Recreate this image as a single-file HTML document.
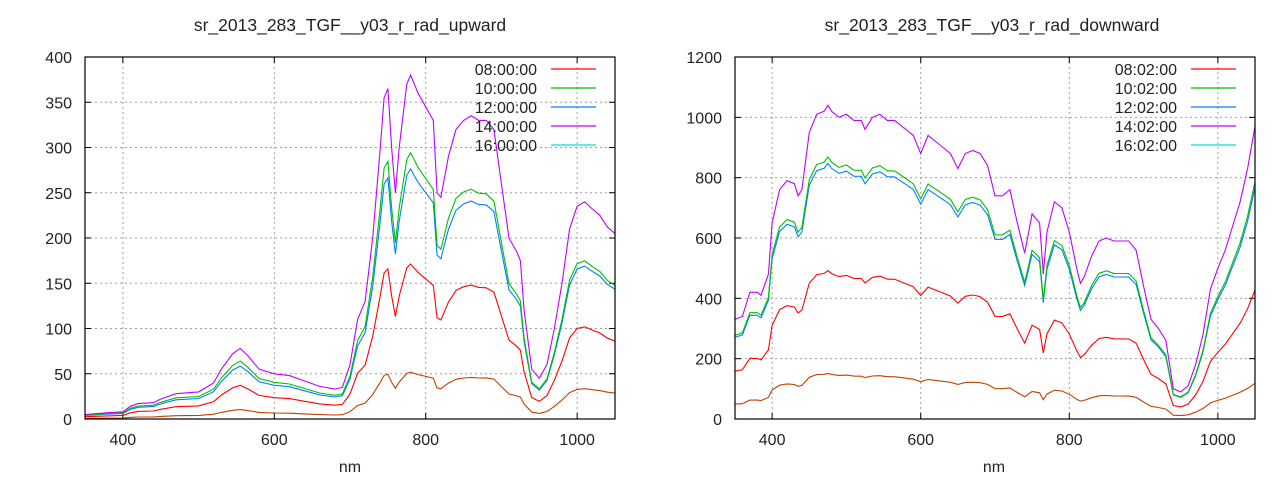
<!DOCTYPE html>
<html><head><meta charset="utf-8"><style>
body{margin:0;background:#fff;}
svg text{font-family:"Liberation Sans",sans-serif;font-size:16px;fill:#222;}
</style></head><body>
<svg id="s" width="1280" height="480" xmlns="http://www.w3.org/2000/svg">
<text x="350" y="31" text-anchor="middle" style="font-size:17.5px">sr_2013_283_TGF__y03_r_rad_upward</text>
<text x="992" y="31" text-anchor="middle" style="font-size:17.5px">sr_2013_283_TGF__y03_r_rad_downward</text>
<text x="350" y="472" text-anchor="middle">nm</text>
<text x="994" y="472" text-anchor="middle">nm</text>
</svg>
<script>
var s=document.getElementById('s'),NS='http://www.w3.org/2000/svg';
function el(t,a,txt){var e=document.createElementNS(NS,t);for(var k in a)e.setAttribute(k,a[k]);if(txt)e.textContent=txt;s.appendChild(e);return e;}
function plot(o){
 var X=function(n){return o.x0+(n-350)/700*(o.x1-o.x0)},Y=function(v){return o.y1-v/o.ymax*(o.y1-o.y0)};
 for(var v=0;v<=o.ymax;v+=o.ystep){var y=Y(v);
  if(v>0&&v<o.ymax)el('line',{x1:o.x0,x2:o.x1,y1:y,y2:y,stroke:'#a0a0a0','stroke-dasharray':'2,3'});
  el('line',{x1:o.x0,x2:o.x0+6,y1:y,y2:y,stroke:'#000'});el('line',{x1:o.x1,x2:o.x1-6,y1:y,y2:y,stroke:'#000'});
  el('text',{x:o.x0-13,y:y+6,'text-anchor':'end'},String(v));}
 [400,600,800,1000].forEach(function(n){var x=X(n);
  el('line',{x1:x,x2:x,y1:o.y0,y2:o.y1,stroke:'#a0a0a0','stroke-dasharray':'2,3'});
  el('line',{x1:x,x2:x,y1:o.y1,y2:o.y1-6,stroke:'#000'});el('line',{x1:x,x2:x,y1:o.y0,y2:o.y0+6,stroke:'#000'});
  el('text',{x:x,y:o.y1+26,'text-anchor':'middle'},String(n));});
 var cols=['#ff0000','#00c000','#0080ff','#c000ff','#c04000'];
 var order=[4,0,2,1,3];
 order.forEach(function(i){var r=o.r[i],d='';
  o.d.forEach(function(p,j){var f=r[0]+(r[1]-r[0])*(p[0]-350)/700;d+=(j?'L':'M')+X(p[0]).toFixed(1)+','+Y(p[1]*f).toFixed(1);});
  el('path',{d:d,fill:'none',stroke:cols[i],'stroke-width':1.1});});
 var lc=['#ff0000','#00c000','#0080ff','#c000ff','#00e0e0'];
 for(var i=0;i<5;i++){var y=69+i*19;
  el('text',{x:o.lx,y:y+6,'text-anchor':'end'},o.lab[i]);
  el('line',{x1:o.lx+14,x2:o.lx+59,y1:y,y2:y,stroke:lc[i],'stroke-width':1.2});}
 el('rect',{x:o.x0,y:o.y0,width:o.x1-o.x0,height:o.y1-o.y0,fill:'none',stroke:'#000','stroke-width':1.2});
}
var up=[[350,5],[380,7],[400,8],[410,14],[420,17],[440,18],[450,22],[470,28],[500,30],[520,40],[530,55],[545,72],[555,78],[565,70],[580,55],[600,50],[620,48],[640,42],[660,36],[680,33],[690,35],[700,60],[710,110],[720,130],[730,200],[740,300],[745,355],[750,365],[755,300],[760,250],[765,300],[775,370],[780,380],[790,360],[800,345],[810,330],[815,250],[820,245],[830,290],[840,320],[850,330],[860,335],[870,330],[880,330],[890,320],[900,260],[910,200],[920,185],[925,175],[930,120],[940,55],[950,45],[960,60],[970,100],[980,150],[990,210],[1000,235],[1010,240],[1020,232],[1030,225],[1040,212],[1050,205]];
var dn=[[350,330],[360,340],[370,420],[380,420],[385,410],[395,480],[400,650],[410,760],[420,790],[430,780],[435,740],[440,760],[450,950],[460,1010],[470,1020],[475,1040],[480,1020],[490,1000],[500,1010],[510,990],[520,990],[525,960],[535,1000],[545,1010],[555,990],[565,990],[575,970],[585,950],[590,940],[600,880],[610,940],[620,920],[630,900],[640,880],[650,830],[660,880],[670,890],[680,880],[690,840],[700,740],[710,740],[720,760],[730,650],[740,550],[750,680],[760,650],[765,480],[770,620],[780,720],[790,700],[800,620],[810,500],[815,450],[820,470],[830,540],[840,590],[850,600],[860,590],[870,590],[880,590],[890,560],[900,440],[910,330],[920,300],[930,260],[940,100],[950,90],[960,110],[970,180],[980,280],[990,430],[1000,500],[1010,560],[1020,640],[1030,720],[1040,830],[1050,970]];
plot({x0:85,x1:615,y0:57,y1:419,ymax:400,ystep:50,d:up,r:[[0.5,0.42],[0.86,0.72],[0.77,0.7],[1,1],[0.13,0.14]],lx:537,lab:['08:00:00','10:00:00','12:00:00','14:00:00','16:00:00']});
plot({x0:735,x1:1255,y0:57,y1:419,ymax:1200,ystep:200,d:dn,r:[[0.48,0.44],[0.84,0.81],[0.82,0.79],[1,1],[0.15,0.122]],lx:1177,lab:['08:02:00','10:02:00','12:02:00','14:02:00','16:02:00']});
</script>
</body></html>
